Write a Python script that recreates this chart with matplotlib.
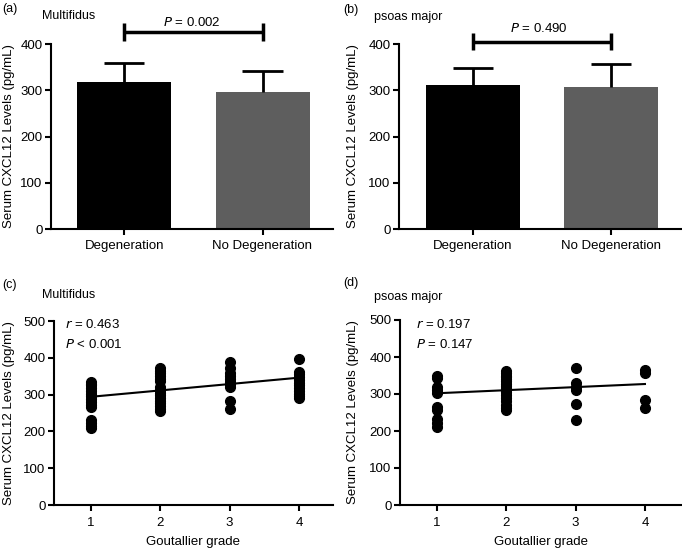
import matplotlib
matplotlib.use("Agg")
import matplotlib.pyplot as plt
import numpy as np

plt.rcParams['font.family'] = ['Liberation Sans', 'DejaVu Sans']

# ---------------- data ----------------
bar_categories = ["Degeneration", "No Degeneration"]
multifidus_means = [318, 296]
multifidus_sd = [40, 45]
psoas_means = [311, 308]
psoas_sd = [37, 48]
p_multifidus_bar = "0.002"
p_psoas_bar = "0.490"

grades = [1, 2, 3, 4]
mf_g1 = [335, 330, 325, 318, 310, 302, 295, 287, 280, 272, 266, 230, 222, 216, 209]
mf_g2 = [372, 365, 358, 350, 343, 336, 320, 312, 305, 298, 290, 283, 276, 268, 262, 256]
mf_g3 = [388, 372, 360, 350, 342, 335, 328, 320, 283, 260]
mf_g4 = [398, 362, 355, 348, 340, 332, 325, 318, 310, 302, 295, 290]
mf_fit = [294, 346]   # regression line value at grade 1 and grade 4
mf_r, mf_p = "0.463", "< 0.001"

ps_g1 = [350, 342, 318, 310, 302, 265, 258, 232, 222, 210]
ps_g2 = [362, 356, 350, 345, 340, 334, 328, 322, 316, 310, 305, 298, 290, 280, 270, 262, 256]
ps_g3 = [370, 330, 320, 310, 273, 229]
ps_g4 = [365, 358, 283, 262]
ps_fit = [302, 327]
ps_r, ps_p = "0.197", "= 0.147"

# ---------------- layout helpers ----------------
W, H = 682, 550
fig = plt.figure(figsize=(W / 100, H / 100), dpi=100)

def rect(l, t, r, b):
    return [l / W, 1 - b / H, (r - l) / W, (b - t) / H]

def fx(px):
    return px / W

def fy(py):
    return 1 - py / H

FS = 9.5
LW = 1.5

def style(ax):
    for s in ['top', 'right']:
        ax.spines[s].set_visible(False)
    for s in ['left', 'bottom']:
        ax.spines[s].set_linewidth(LW)
    ax.tick_params(direction='out', length=4, width=LW, labelsize=FS, pad=2)

def bar_panel(ax, means, sds, p, bracket_y, bracket_h, xlim, ylabel_px, axleft):
    x = np.arange(len(bar_categories))
    means = np.array(means)
    sds = np.array(sds)
    ax.bar(x, means, width=0.68, color=['#000000', '#5e5e5e'], zorder=2)
    ax.vlines(x, means, means + sds, color='black', lw=2, zorder=3)
    ax.hlines(means + sds, x - 0.145, x + 0.145, color='black', lw=2, zorder=3)
    ax.set_xlim(*xlim)
    ax.set_ylim(0, 400)
    ax.set_yticks([0, 100, 200, 300, 400])
    ax.set_xticks(x)
    ax.set_xticklabels(bar_categories, fontsize=FS)
    style(ax)
    ax.tick_params(axis='x', pad=4)
    # significance bracket
    ax.plot([x[0], x[1]], [bracket_y, bracket_y], color='black', lw=2.5,
            clip_on=False, solid_capstyle='butt')
    for xi in x:
        ax.plot([xi, xi], [bracket_y - bracket_h, bracket_y + bracket_h],
                color='black', lw=2.5, clip_on=False, solid_capstyle='butt')
    ax.set_ylabel("Serum CXCL12 Levels (pg/mL)", fontsize=FS, va='center')
    ax.yaxis.set_label_coords((ylabel_px - axleft) / 282, 0.5)

def scatter_panel(ax, groups, fit, r, p, xlim):
    for g, vals in zip(grades, groups):
        ax.plot([g] * len(vals), vals, 'o', color='black', ms=7,
                mec='black', zorder=3, clip_on=False)
    ax.plot([grades[0], grades[-1]], fit, color='black', lw=1.5, zorder=2)
    ax.set_xlim(*xlim)
    ax.set_ylim(0, 500)
    ax.set_xticks(grades)
    ax.set_yticks([0, 100, 200, 300, 400, 500])
    style(ax)
    ax.tick_params(axis='x', pad=5)
    ax.set_xlabel("Goutallier grade", fontsize=FS, labelpad=5)
    ax.set_ylabel("Serum CXCL12 Levels (pg/mL)", fontsize=FS, va='center')

# ---------------- panel (a) ----------------
axa = fig.add_axes(rect(51, 44, 333, 229))
bar_panel(axa, multifidus_means, multifidus_sd, p_multifidus_bar, 426, 19,
          (-0.53, 1.51), 9, 51)
fig.text(fx(2), fy(9), "(a)", fontsize=9, va='center', ha='left')
fig.text(fx(42), fy(16), "Multifidus", fontsize=9, va='center', ha='left')
fig.text(fx(192), fy(22), r"$\it{P}$ = " + p_multifidus_bar, fontsize=9.5,
         va='center', ha='center')

# ---------------- panel (b) ----------------
axb = fig.add_axes(rect(399, 44, 681, 229))
bar_panel(axb, psoas_means, psoas_sd, p_psoas_bar, 405, 19,
          (-0.536, 1.507), 353, 399)
fig.text(fx(343), fy(10), "(b)", fontsize=9, va='center', ha='left')
fig.text(fx(374), fy(17), "psoas major", fontsize=9, va='center', ha='left')
fig.text(fx(539), fy(28), r"$\it{P}$ = " + p_psoas_bar, fontsize=9.5,
         va='center', ha='center')

# ---------------- panel (c) ----------------
axc = fig.add_axes(rect(54, 321, 333, 505))
scatter_panel(axc, [mf_g1, mf_g2, mf_g3, mf_g4], mf_fit, mf_r, mf_p, (0.47, 4.49))
axc.yaxis.set_label_coords((9 - 54) / 279, 0.5)
fig.text(fx(2), fy(285), "(c)", fontsize=9, va='center', ha='left')
fig.text(fx(42), fy(295), "Multifidus", fontsize=9, va='center', ha='left')
fig.text(fx(65), fy(324), r"$\it{r}$ = " + mf_r, fontsize=9.5, va='center', ha='left')
fig.text(fx(65), fy(344), r"$\it{P}$ " + mf_p, fontsize=9.5, va='center', ha='left')

# ---------------- panel (d) ----------------
axd = fig.add_axes(rect(400, 320, 681, 505))
scatter_panel(axd, [ps_g1, ps_g2, ps_g3, ps_g4], ps_fit, ps_r, ps_p, (0.467, 4.52))
axd.yaxis.set_label_coords((353 - 400) / 281, 0.5)
fig.text(fx(343), fy(283), "(d)", fontsize=9, va='center', ha='left')
fig.text(fx(374), fy(297), "psoas major", fontsize=9, va='center', ha='left')
fig.text(fx(416), fy(324), r"$\it{r}$ = " + ps_r, fontsize=9.5, va='center', ha='left')
fig.text(fx(416), fy(344), r"$\it{P}$ " + ps_p, fontsize=9.5, va='center', ha='left')

fig.savefig("out.png", dpi=100)
